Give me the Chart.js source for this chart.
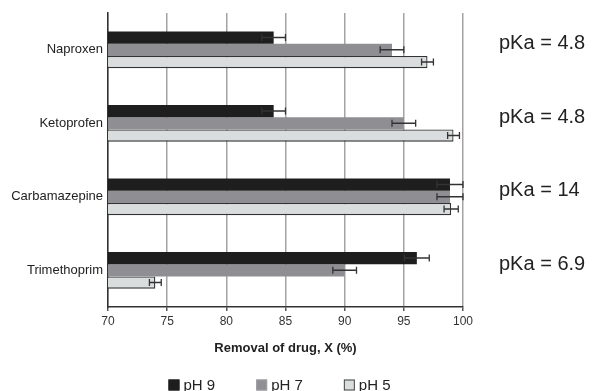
<!DOCTYPE html>
<html>
<head>
<meta charset="utf-8">
<script src="https://cdn.jsdelivr.net/npm/chart.js@4.4.1/dist/chart.umd.min.js"></script>
<style>
  html, body { margin: 0; padding: 0; background: #ffffff; }
  #wrap { width: 592px; height: 391px; position: relative; }
</style>
</head>
<body>
<div id="wrap"><canvas id="c" width="592" height="391"></canvas></div>
<script>
// ---- data ----
const categories = ['Naproxen', 'Ketoprofen', 'Carbamazepine', 'Trimethoprim'];
const seriesNames = ['pH 9', 'pH 7', 'pH 5'];
const pH9 = [84, 84, 98.9, 96.1];
const pH9Err = [1, 1, 1.1, 1.05];
const pH7 = [94, 95, 98.9, 90];
const pH7Err = [1, 1, 1.1, 1];
const pH5 = [97, 99.2, 99, 74];
const pH5Err = [0.5, 0.5, 0.6, 0.5];
const pKaLabels = ['pKa = 4.8', 'pKa = 4.8', 'pKa = 14', 'pKa = 6.9'];
const xTicks = [70, 75, 80, 85, 90, 95, 100];
const xTitle = 'Removal of drug, X (%)';

const FONT = "'Liberation Sans', Arial, Helvetica, sans-serif";
Chart.defaults.font.family = FONT;

const errorBars = {
  id: 'errorBars',
  afterDatasetsDraw(chart) {
    const ctx = chart.ctx;
    const xs = chart.scales.x;
    const area = chart.chartArea;
    ctx.save();
    ctx.beginPath();
    ctx.rect(area.left, area.top - 2, area.right - area.left + 1, area.bottom - area.top + 4);
    ctx.clip();
    chart.data.datasets.forEach((ds, di) => {
      const meta = chart.getDatasetMeta(di);
      meta.data.forEach((el, i) => {
        const v = ds.data[i], e = ds.errors[i];
        const x1 = xs.getPixelForValue(v - e);
        const x2 = xs.getPixelForValue(v + e);
        const y = el.y;
        const h = 3.5;
        ctx.strokeStyle = '#333333';
        ctx.lineWidth = 1.3;
        ctx.beginPath();
        ctx.moveTo(x1, y); ctx.lineTo(x2, y);
        ctx.moveTo(x1, y - h); ctx.lineTo(x1, y + h);
        ctx.moveTo(x2, y - h); ctx.lineTo(x2, y + h);
        ctx.stroke();
      });
    });
    ctx.restore();
  }
};

const sideLabels = {
  id: 'sideLabels',
  afterDraw(chart) {
    const ctx = chart.ctx;
    const ys = chart.scales.y;
    ctx.save();
    ctx.font = '20px ' + FONT;
    ctx.fillStyle = '#222222';
    ctx.textAlign = 'left';
    ctx.textBaseline = 'middle';
    pKaLabels.forEach((t, i) => {
      ctx.fillText(t, chart.chartArea.right + 36, ys.getPixelForValue(i) - 6);
    });
    ctx.restore();
  }
};

const customLegend = {
  id: 'customLegend',
  afterDraw(chart) {
    const ctx = chart.ctx;
    ctx.save();
    ctx.font = '15px ' + FONT;
    ctx.textBaseline = 'middle';
    ctx.textAlign = 'left';
    const box = 11, gapText = 4, gap = 41;
    const items = chart.data.datasets.map(ds => ({
      ds, w: box + gapText + ctx.measureText(ds.label).width
    }));
    const total = items.reduce((s, it) => s + it.w, 0) + gap * (items.length - 1);
    const cx = (chart.chartArea.left + chart.chartArea.right) / 2 - 6;
    let x = cx - total / 2;
    const y = chart.height - 6;
    items.forEach(it => {
      ctx.fillStyle = it.ds.legendFill;
      ctx.fillRect(x, y - box / 2, box, box);
      ctx.strokeStyle = it.ds.legendStroke;
      ctx.lineWidth = 1;
      ctx.strokeRect(x + 0.5, y - box / 2 + 0.5, box - 1, box - 1);
      ctx.fillStyle = '#222222';
      ctx.fillText(it.ds.label, x + box + gapText, y + 1);
      x += it.w + gap;
    });
    ctx.restore();
  }
};

new Chart(document.getElementById('c'), {
  type: 'bar',
  data: {
    labels: categories,
    datasets: [
      { label: seriesNames[0], data: pH9, errors: pH9Err,
        backgroundColor: '#1e1e1e', borderColor: '#1e1e1e', borderWidth: 0,
        legendFill: '#1e1e1e', legendStroke: '#1e1e1e' },
      { label: seriesNames[1], data: pH7, errors: pH7Err,
        backgroundColor: '#8f8f93', borderColor: '#8f8f93', borderWidth: 0,
        legendFill: '#909094', legendStroke: '#a0a0a4' },
      { label: seriesNames[2], data: pH5, errors: pH5Err,
        backgroundColor: '#d9dddd', borderColor: '#333333', borderWidth: 1.3,
        legendFill: '#d9dddd', legendStroke: '#444444' }
    ]
  },
  options: {
    indexAxis: 'y',
    responsive: false,
    animation: false,
    devicePixelRatio: 1,
    layout: { padding: { top: 13, right: 129, bottom: 35, left: 0 } },
    datasets: { bar: { categoryPercentage: 0.5, barPercentage: 1.0, borderSkipped: false } },
    plugins: {
      legend: { display: false },
      tooltip: { enabled: false }
    },
    scales: {
      x: {
        type: 'linear',
        min: xTicks[0],
        max: xTicks[xTicks.length - 1],
        afterBuildTicks(scale) { scale.ticks = xTicks.map(v => ({ value: v })); },
        ticks: { font: { size: 12 }, color: '#333333', padding: 3 },
        grid: { color: '#a3a3a3', lineWidth: 1.5, drawTicks: true, tickLength: 4, tickColor: '#555555' },
        border: { display: true, color: '#333333', width: 1.5 },
        title: { display: true, text: xTitle, color: '#222222',
                 font: { size: 13, weight: 'bold' }, padding: { top: 9, bottom: 0 } }
      },
      y: {
        type: 'category',
        afterFit(scale) { scale.width = 108; },
        ticks: { font: { size: 13 }, color: '#222222', padding: 5 },
        grid: { display: false, drawTicks: false },
        border: { display: true, color: '#333333', width: 1.5 }
      }
    }
  },
  plugins: [errorBars, sideLabels, customLegend]
});
</script>
</body>
</html>
